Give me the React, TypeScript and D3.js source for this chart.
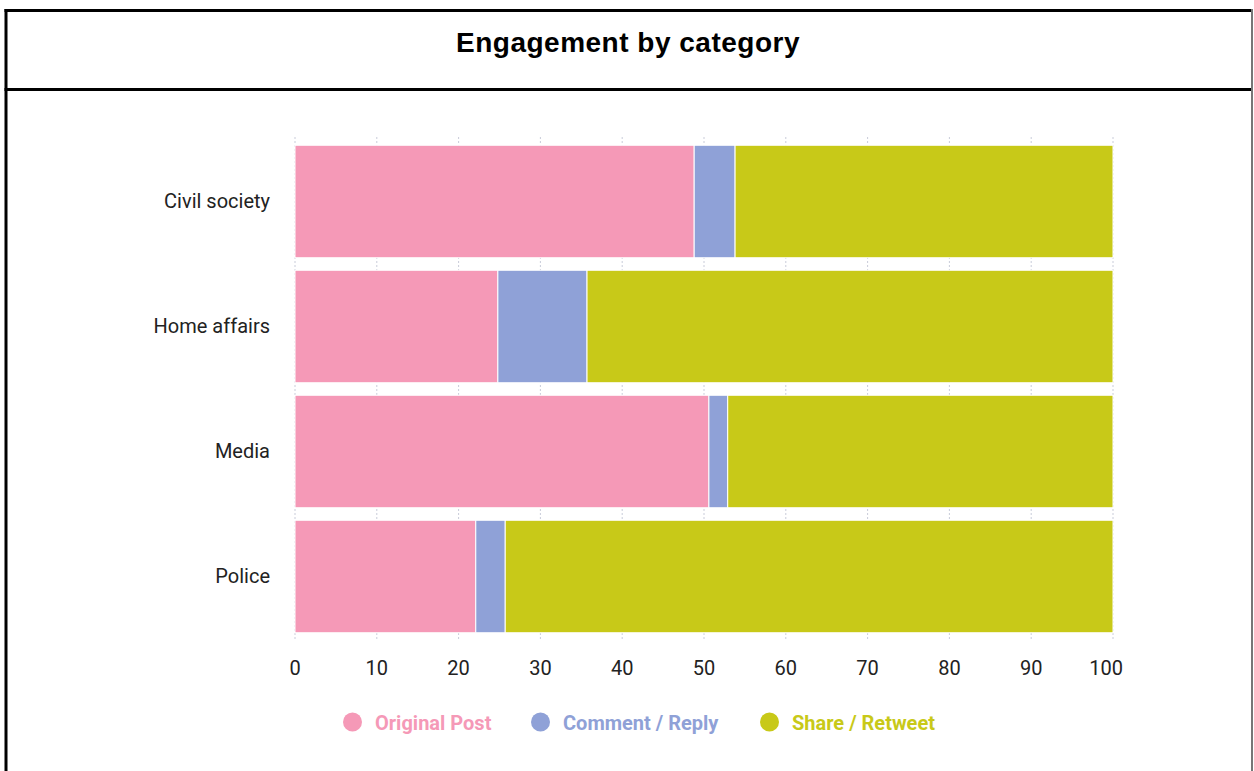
import React from "react";
import * as d3 from "d3";

const categories = ["Civil society", "Home affairs", "Media", "Police"];
const originalPost = [48.8, 24.8, 50.6, 22.1];
const commentReply = [5.0, 10.9, 2.3, 3.6];
const shareRetweet = [46.2, 64.3, 47.1, 74.3];
const seriesNames = ["Original Post", "Comment / Reply", "Share / Retweet"];
const seriesColors = ["#f599b7", "#8fa1d7", "#c8c918"];
const xTicks = [0, 10, 20, 30, 40, 50, 60, 70, 80, 90, 100];

export default function App() {
  const W = 1254, H = 771;
  const x = d3.scaleLinear().domain([0, 100]).range([295, 1113]);
  const y = d3.scaleBand<string>().domain(categories).range([139, 639]).paddingInner(0.1).paddingOuter(0.05);
  const rows = categories.map((c, i) => ({ cat: c, v0: originalPost[i], v1: commentReply[i], v2: shareRetweet[i] }));
  const stack = d3.stack<any>().keys(["v0", "v1", "v2"])(rows);
  const legendX = [352.5, 540.5, 769.5];
  return (
    <svg width={W} height={H} style={{ position: "absolute", left: 0, top: 0, background: "#fff" }}>
      <rect x={0} y={0} width={W} height={H} fill="#fff" />
      {/* frame */}
      <line x1={4.5} x2={1253} y1={10.5} y2={10.5} stroke="#000" strokeWidth={3} />
      <line x1={6} x2={6} y1={9} y2={H} stroke="#000" strokeWidth={3} />
      <line x1={4.5} x2={1253} y1={89.5} y2={89.5} stroke="#000" strokeWidth={3} />
      <line x1={1252} x2={1252} y1={9} y2={H} stroke="#777" strokeWidth={2} />
      <text x={628} y={52} textAnchor="middle" fontFamily="Liberation Sans, Arial, sans-serif" fontWeight="bold" fontSize={28} letterSpacing={0.5} fill="#000">
        Engagement by category
      </text>
      {/* grid */}
      {xTicks.map((t) => (
        <line key={t} x1={x(t)} x2={x(t)} y1={137} y2={641} stroke="#c9ccd9" strokeWidth={1} strokeDasharray="2,2" />
      ))}
      {/* bars */}
      {stack.map((s, si) => (
        <g key={si}>
          {s.map((d: any, i: number) => (
            <rect
              key={i}
              x={x(d[0])}
              y={y(categories[i])}
              width={x(d[1]) - x(d[0])}
              height={y.bandwidth()}
              fill={seriesColors[si]}
              stroke="#fff"
              strokeWidth={1}
            />
          ))}
        </g>
      ))}
      {/* y labels */}
      {categories.map((c) => (
        <text key={c} x={270} y={(y(c) as number) + y.bandwidth() / 2 + 6} textAnchor="end" fontFamily="Roboto, sans-serif" fontSize={20} fill="#222">
          {c}
        </text>
      ))}
      {/* x labels */}
      {xTicks.map((t, i) => {
        const last = i === xTicks.length - 1;
        return (
          <text key={t} x={last ? x(t) + 10 : x(t)} y={675} textAnchor={last ? "end" : "middle"} fontFamily="Roboto, sans-serif" fontSize={20} fill="#222">
            {t}
          </text>
        );
      })}
      {/* legend */}
      {seriesNames.map((n, i) => (
        <g key={n}>
          <circle cx={legendX[i]} cy={722} r={9.5} fill={seriesColors[i]} />
          <text x={legendX[i] + 22.5} y={729.5} fontFamily="Roboto, sans-serif" fontWeight="bold" fontSize={20} fill={seriesColors[i]}>
            {n}
          </text>
        </g>
      ))}
    </svg>
  );
}
